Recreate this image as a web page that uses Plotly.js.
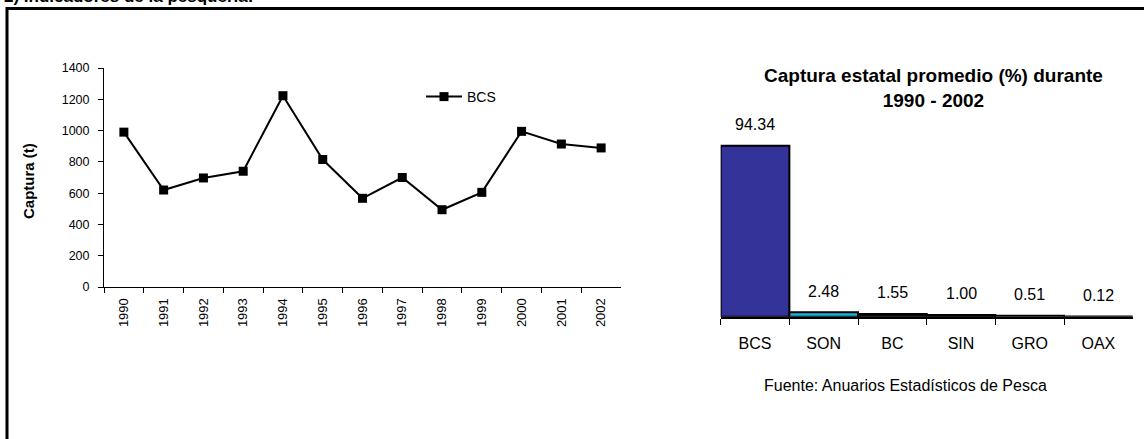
<!DOCTYPE html>
<html>
<head>
<meta charset="utf-8">
<script src="https://cdn.plot.ly/plotly-3.0.1.min.js"></script>
<style>html,body{margin:0;padding:0;background:#fff;}#chart{width:1144px;height:439px;}</style>
</head>
<body>
<div id="chart"></div>
<script>
// Line chart data
const years = ["1990","1991","1992","1993","1994","1995","1996","1997","1998","1999","2000","2001","2002"];
const capturaBCS = [990, 620, 697, 740, 1223, 815, 567, 700, 494, 605, 995, 914, 889];
// Bar chart data
const states = ["BCS","SON","BC","SIN","GRO","OAX"];
const pctStates = [94.34, 2.48, 1.55, 1.00, 0.51, 0.12];
const stateColors = ["#333399","#1AB4DE","#111111","#111111","#9a9a9a","#111111"];

const W = 1144, H = 439;
const px = v => v / W;
const py = v => 1 - v / H;
const FONT = "Liberation Sans, Arial, sans-serif";

const traces = [
  {
    type: "scatter", mode: "lines+markers", name: "BCS",
    x: years, y: capturaBCS, xaxis: "x", yaxis: "y",
    line: {color: "#000", width: 2},
    marker: {symbol: "square", size: 9, color: "#000"},
    showlegend: true
  },
  {
    type: "bar", x: states, y: pctStates, xaxis: "x2", yaxis: "y2",
    marker: {color: stateColors, line: {color: "#000", width: 2}},
    showlegend: false, hoverinfo: "skip"
  }
];

const annotations = [
  {text: "<b>2) Indicadores de la pesquería:</b>", xref: "paper", yref: "paper",
   x: px(2), y: py(8), xanchor: "left", yanchor: "bottom", showarrow: false,
   font: {family: FONT, size: 17, color: "#000"}},
  {text: "<b>Captura (t)</b>", xref: "paper", yref: "paper", x: px(29), y: py(181),
   textangle: -90, showarrow: false, xanchor: "center", yanchor: "middle",
   font: {family: FONT, size: 15, color: "#000"}},
  {text: "<b>Captura estatal promedio (%) durante<br>1990 - 2002</b>", xref: "paper", yref: "paper",
   x: px(933), y: py(88), xanchor: "center", yanchor: "middle", showarrow: false,
   font: {family: FONT, size: 19, color: "#000"}},
  {text: "Fuente: Anuarios Estadísticos de Pesca", xref: "paper", yref: "paper",
   x: px(905), y: py(385), xanchor: "center", yanchor: "middle", showarrow: false,
   font: {family: FONT, size: 16, color: "#000"}}
];
states.forEach((s, i) => {
  annotations.push({
    text: pctStates[i].toFixed(2), xref: "x2", yref: "y2", x: s, y: pctStates[i],
    yshift: 21, xanchor: "center", yanchor: "middle", showarrow: false,
    font: {family: FONT, size: 16, color: "#000"}
  });
});

const layout = {
  width: W, height: H,
  margin: {l: 0, r: 0, t: 0, b: 0, pad: 0},
  paper_bgcolor: "#fff", plot_bgcolor: "rgba(0,0,0,0)",
  font: {family: FONT, color: "#000"},
  xaxis: {
    domain: [px(104), px(621)], anchor: "y", type: "category", range: [-0.5, 12.5],
    showline: true, linecolor: "#000", linewidth: 1,
    ticks: "outside", ticklen: 5, tickcolor: "#000", tickson: "boundaries",
    tickangle: -90, tickfont: {size: 13}, ticklabelstandoff: 5, showgrid: false, zeroline: false
  },
  yaxis: {
    domain: [py(287), py(68)], anchor: "x", range: [0, 1400], dtick: 200,
    showline: true, linecolor: "#000", linewidth: 1,
    ticks: "outside", ticklen: 5, tickcolor: "#000", ticklabelstandoff: 6,
    tickfont: {size: 12.5}, showgrid: false, zeroline: false
  },
  xaxis2: {
    domain: [px(720.7), px(1132.7)], anchor: "y2", type: "category",
    showline: true, linecolor: "#000", linewidth: 2,
    ticks: "outside", ticklen: 6, tickcolor: "#000", tickson: "boundaries",
    tickfont: {size: 16}, ticklabelstandoff: 11, showgrid: false, zeroline: false
  },
  yaxis2: {
    domain: [py(316.7), py(135.4)], anchor: "x2", range: [0, 100], visible: false
  },
  bargap: 0,
  showlegend: true,
  legend: {x: px(421), y: py(97), xanchor: "left", yanchor: "middle", itemwidth: 36,
           bgcolor: "rgba(0,0,0,0)", font: {size: 14}},
  annotations: annotations,
  shapes: [
    {type: "rect", xref: "paper", yref: "paper", x0: px(7), x1: px(1160), y0: py(460), y1: py(8.5),
     line: {color: "#000", width: 3}, fillcolor: "rgba(0,0,0,0)"}
  ]
};

Plotly.newPlot("chart", traces, layout, {staticPlot: true, displayModeBar: false});
</script>
</body>
</html>
